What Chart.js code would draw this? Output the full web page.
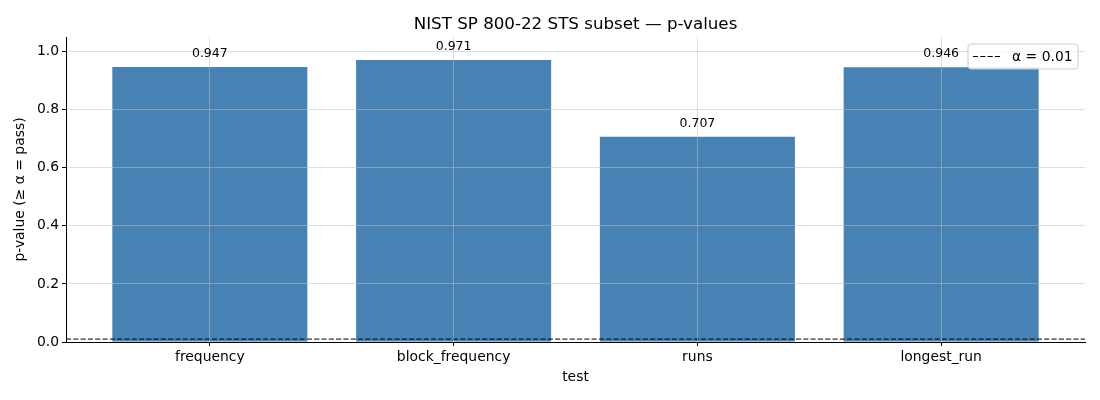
<!DOCTYPE html>
<html>
<head>
<meta charset="utf-8">
<script src="https://cdn.jsdelivr.net/npm/chart.js@4/dist/chart.umd.min.js"></script>
<style>
  html, body { margin: 0; padding: 0; background: #fff; }
  #wrap { width: 1100px; height: 400px; }
</style>
</head>
<body>
<div id="wrap"><canvas id="c" width="1100" height="400"></canvas></div>
<script>
const categories = ['frequency', 'block_frequency', 'runs', 'longest_run'];
const pValues = [0.947, 0.971, 0.707, 0.946];
const valueLabels = ['0.947', '0.971', '0.707', '0.946'];
const alphaLevel = 0.01;
const alphaLabel = 'α = 0.01';
const chartTitle = 'NIST SP 800-22 STS subset — p-values';
const yTicks = [0.0, 0.2, 0.4, 0.6, 0.8, 1.0];
const xLimits = [-0.59, 3.59];
const yLimits = [0, 1.05];

const FONT = "'DejaVu Sans', sans-serif";
Chart.defaults.font.family = FONT;
Chart.defaults.color = '#000';

const gridColor = 'rgba(190,190,190,0.5)';

const overlay = {
  id: 'overlay',
  afterDraw(chart) {
    const ctx = chart.ctx;
    const a = chart.chartArea;

    // title centred over the axes
    ctx.save();
    ctx.font = '16.7px ' + FONT;
    ctx.fillStyle = '#000';
    ctx.textAlign = 'center';
    ctx.textBaseline = 'alphabetic';
    ctx.fillText(chartTitle, (a.left + a.right) / 2, a.top - 8);
    ctx.restore();

    // value labels
    const meta = chart.getDatasetMeta(1);
    ctx.save();
    ctx.font = '12.5px ' + FONT;
    ctx.fillStyle = '#000';
    ctx.textAlign = 'center';
    ctx.textBaseline = 'alphabetic';
    meta.data.forEach((bar, i) => {
      ctx.fillText(valueLabels[i], bar.x, bar.y - 10);
    });
    ctx.restore();

    // legend (matplotlib style)
    const w = 110, h = 25;
    const x = a.right - 7 - w, y = a.top + 7;
    ctx.save();
    const r = 3;
    ctx.beginPath();
    ctx.moveTo(x + r, y);
    ctx.lineTo(x + w - r, y);
    ctx.arcTo(x + w, y, x + w, y + r, r);
    ctx.lineTo(x + w, y + h - r);
    ctx.arcTo(x + w, y + h, x + w - r, y + h, r);
    ctx.lineTo(x + r, y + h);
    ctx.arcTo(x, y + h, x, y + h - r, r);
    ctx.lineTo(x, y + r);
    ctx.arcTo(x, y, x + r, y, r);
    ctx.closePath();
    ctx.fillStyle = 'rgba(255,255,255,0.8)';
    ctx.fill();
    ctx.strokeStyle = '#cccccc';
    ctx.lineWidth = 1;
    ctx.stroke();
    ctx.beginPath();
    ctx.setLineDash([5.1, 2.2]);
    ctx.strokeStyle = '#000';
    ctx.moveTo(x + 5, y + h / 2);
    ctx.lineTo(x + 33, y + h / 2);
    ctx.stroke();
    ctx.setLineDash([]);
    ctx.font = '13.9px ' + FONT;
    ctx.fillStyle = '#000';
    ctx.textAlign = 'left';
    ctx.textBaseline = 'middle';
    ctx.fillText(alphaLabel, x + 44, y + h / 2 + 0.5);
    ctx.restore();
  }
};

new Chart(document.getElementById('c'), {
  data: {
    datasets: [
      {
        type: 'line',
        label: alphaLabel,
        data: xLimits.map(x => ({ x: x, y: alphaLevel })),
        borderColor: '#000',
        borderWidth: 1,
        borderDash: [5.1, 2.2],
        pointRadius: 0,
        fill: false,
        order: 0
      },
      {
        type: 'bar',
        label: 'p-value',
        data: pValues.map((v, i) => ({ x: i, y: v })),
        backgroundColor: '#4682B4',
        borderWidth: 0,
        barPercentage: 0.8,
        categoryPercentage: 1.0,
        order: 1
      }
    ]
  },
  options: {
    responsive: false,
    animation: false,
    devicePixelRatio: 1,
    layout: { padding: { left: 0, right: 15, top: 37, bottom: 0 } },
    plugins: {
      legend: { display: false },
      tooltip: { enabled: false },
      title: { display: false }
    },
    scales: {
      x: {
        type: 'linear',
        min: xLimits[0],
        max: xLimits[1],
        offset: false,
        afterBuildTicks: s => { s.ticks = categories.map((_, i) => ({ value: i })); },
        afterFit: s => { s.height = 58; },
        ticks: {
          callback: v => categories[v],
          font: { size: 13.9 },
          color: '#000',
          padding: 3,
          maxRotation: 0,
          autoSkip: false,
          z: 2
        },
        grid: { offset: false, color: gridColor, lineWidth: 1, tickColor: '#000', tickLength: 4, z: 1 },
        border: { display: true, color: '#000', width: 1, z: 2 },
        title: {
          display: true,
          text: 'test',
          font: { size: 13.9 },
          color: '#000',
          padding: { top: 0, bottom: 14 }
        }
      },
      y: {
        type: 'linear',
        min: yLimits[0],
        max: yLimits[1],
        afterBuildTicks: s => { s.ticks = yTicks.map(v => ({ value: v })); },
        afterFit: s => { s.width = 66; },
        ticks: {
          callback: v => Number(v).toFixed(1),
          font: { size: 13.9 },
          color: '#000',
          padding: 3,
          z: 2
        },
        grid: { color: gridColor, lineWidth: 1, tickColor: '#000', tickLength: 4, z: 1 },
        border: { display: true, color: '#000', width: 1, z: 2 },
        title: {
          display: true,
          text: 'p-value (≥ α = pass)',
          font: { size: 13.9 },
          color: '#000',
          padding: { top: 12, bottom: 0 }
        }
      }
    }
  },
  plugins: [overlay]
});
</script>
</body>
</html>
